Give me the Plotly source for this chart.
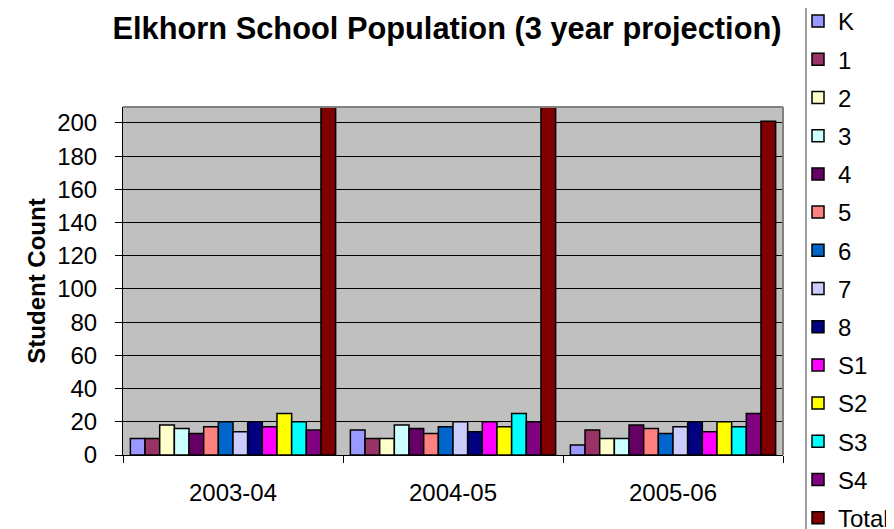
import plotly.graph_objects as go

years = ["2003-04", "2004-05", "2005-06"]
grades = ["K", "1", "2", "3", "4", "5", "6", "7", "8", "S1", "S2", "S3", "S4", "Total"]
k_vals = [10, 15, 6]
g1_vals = [10, 10, 15]
g2_vals = [18, 10, 10]
g3_vals = [16, 18, 10]
g4_vals = [13, 16, 18]
g5_vals = [17, 13, 16]
g6_vals = [20, 17, 13]
g7_vals = [14, 20, 17]
g8_vals = [20, 14, 20]
s1_vals = [17, 20, 14]
s2_vals = [25, 17, 20]
s3_vals = [20, 25, 17]
s4_vals = [15, 20, 25]
total_vals = [215, 215, 201]
series = [k_vals, g1_vals, g2_vals, g3_vals, g4_vals, g5_vals, g6_vals, g7_vals,
          g8_vals, s1_vals, s2_vals, s3_vals, s4_vals, total_vals]
colors = ["#9999FF", "#993366", "#FFFFCC", "#CCFFFF", "#660066", "#FF8080", "#0066CC",
          "#CCCCFF", "#000080", "#FF00FF", "#FFFF00", "#00FFFF", "#800080", "#800000"]
y_ticks = list(range(0, 201, 20))

FONT = "Liberation Sans, Arial, sans-serif"

fig = go.Figure()
for name, vals, col in zip(grades, series, colors):
    fig.add_trace(go.Bar(
        x=years, y=vals, name=name, legendgroup=name,
        marker=dict(color=col, line=dict(color="black", width=1.5)),
    ))

OFF = 8  # page body margin offset
W, H = 894 - OFF, 529 - OFF
L, R, T, B = 123 - OFF, 783 - OFF, 107 - OFF, 455 - OFF

legend_top = (21 - OFF) - 22  # first item centre minus plotly's top offset

fig.update_layout(
    width=W, height=H,
    margin=dict(l=L, r=W - R, t=T, b=H - B, autoexpand=False),
    paper_bgcolor="white", plot_bgcolor="#C0C0C0",
    barmode="group", bargap=0.067, bargroupgap=0,
    font=dict(family=FONT, size=24, color="black"),
    title=dict(text="<b>Elkhorn School Population (3 year projection)</b>",
               x=(447 - OFF) / W, xanchor="center", xref="container",
               y=1 - (28 - OFF) / H, yanchor="middle", yref="container",
               font=dict(size=30.8, family=FONT, color="black")),
    legend=dict(xref="container", yref="paper", x=(798 - OFF) / W, xanchor="left",
                y=(B - legend_top) / (B - T), yanchor="top", maxheight=700,
                tracegroupgap=4,
                font=dict(size=24, family=FONT), bgcolor="rgba(0,0,0,0)",
                borderwidth=0),
    showlegend=True,
)
fig.update_xaxes(
    type="category", automargin=False,
    showline=True, linecolor="black", linewidth=1,
    ticks="outside", tickson="boundaries", ticklen=7, tickcolor="black",
    showgrid=False, ticklabelstandoff=16,
)
fig.update_yaxes(
    automargin=False,
    range=[0, 209.6], tickvals=y_ticks,
    showline=True, linecolor="black", linewidth=1,
    ticks="outside", ticklen=7, tickcolor="black",
    showgrid=True, gridcolor="black", gridwidth=1,
    zeroline=False, ticklabelstandoff=13,
    title=dict(text="<b>Student Count</b>", font=dict(size=24, family=FONT), standoff=4),
)
# plot-area border (top/right) in gray
fig.add_shape(type="line", xref="paper", yref="paper", x0=0, x1=1, y0=1, y1=1,
              line=dict(color="#808080", width=2))
fig.add_shape(type="line", xref="paper", yref="paper", x0=1, x1=1, y0=0, y1=1,
              line=dict(color="#808080", width=2))
# legend box left edge
lx = (806 - OFF - L) / (R - L)
fig.add_shape(type="line", xref="paper", yref="paper", x0=lx, x1=lx,
              y0=(B - H) / (B - T), y1=B / (B - T),
              line=dict(color="#808080", width=1.5))

fig.write_html("out.html")
